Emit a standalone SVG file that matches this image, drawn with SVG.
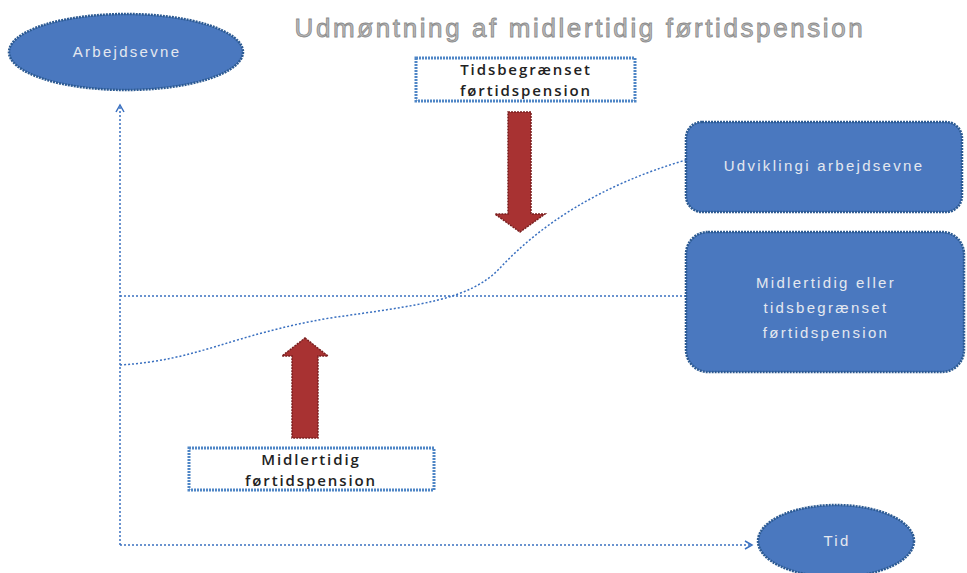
<svg xmlns="http://www.w3.org/2000/svg" width="967" height="573" viewBox="0 0 967 573">
<defs>
<style>
.shape{fill:#4a78bf;stroke:#2c5a92;stroke-width:2.5;stroke-dasharray:2 1}
.wt{fill:#e4e8f0;font-family:"Liberation Sans",Arial,sans-serif;font-size:15px;text-anchor:middle;letter-spacing:2.3px}
.box{fill:#ffffff;stroke:#4f86c6;stroke-width:3;stroke-dasharray:2 1}
.bt{fill:#222;font-family:"Open Sans","Liberation Sans",sans-serif;font-size:15px;font-weight:600;text-anchor:middle;letter-spacing:1.9px}
.conn{fill:none;stroke:#3a70c0;stroke-width:1.5;stroke-dasharray:2 2}
.arrow{fill:#a83232;stroke:#7a1f1f;stroke-width:1.5;stroke-dasharray:2 1}
</style>
<marker id="ah" markerWidth="10" markerHeight="10" refX="8" refY="5" orient="auto" markerUnits="userSpaceOnUse">
<path d="M1,1 L8,5 L1,9" fill="none" stroke="#3a70c0" stroke-width="1.5"/>
</marker>
</defs>
<rect width="967" height="573" fill="#ffffff"/>
<text x="580" y="37" fill="#b8b8b8" stroke="#8a8a8a" stroke-width="0.8" font-family="Liberation Sans,Arial,sans-serif" font-size="26" text-anchor="middle" letter-spacing="2.6">Udmøntning af midlertidig førtidspension</text>
<g id="connectors">
<path class="conn" d="M120,545 L120,105" marker-end="url(#ah)"/>
<path class="conn" d="M120,545 L752,545" marker-end="url(#ah)"/>
<path class="conn" d="M120,296 L686,296"/>
<path class="conn" d="M120,365 C200,360 230,335 330,318 C420,305 470,300 500,268 C540,225 600,185 686,160"/>
</g>
<g id="arbejdsevne">
<ellipse class="shape" cx="126" cy="52" rx="117" ry="38"/>
<text class="wt" x="127" y="57">Arbejdsevne</text>
</g>
<g id="tid">
<ellipse class="shape" cx="836" cy="541" rx="78" ry="36"/>
<text class="wt" x="837" y="546">Tid</text>
</g>
<g id="tidsbegraenset">
<rect class="box" x="416" y="58" width="219" height="43"/>
<text class="bt" x="526" y="75">Tidsbegrænset</text>
<text class="bt" x="526" y="96">førtidspension</text>
</g>
<g id="arrow-down">
<path class="arrow" d="M508,112 L531,112 L531,214 L545,214 L520,232 L495,214 L508,214 Z"/>
</g>
<g id="arrow-up">
<path class="arrow" d="M305,338 L328,356 L318,356 L318,438 L292,438 L292,356 L282,356 Z"/>
</g>
<g id="midlertidig">
<rect class="box" x="189" y="448" width="245" height="42"/>
<text class="bt" x="311" y="465">Midlertidig</text>
<text class="bt" x="311" y="486">førtidspension</text>
</g>
<g id="udvikling">
<rect class="shape" x="686" y="122" width="276" height="90" rx="16"/>
<text class="wt" x="824" y="171">Udviklingi arbejdsevne</text>
</g>
<g id="midl-eller">
<rect class="shape" x="686" y="232" width="278" height="140" rx="22"/>
<text class="wt" x="826" y="288">Midlertidig eller</text>
<text class="wt" x="826" y="313">tidsbegrænset</text>
<text class="wt" x="826" y="338">førtidspension</text>
</g>
</svg>
